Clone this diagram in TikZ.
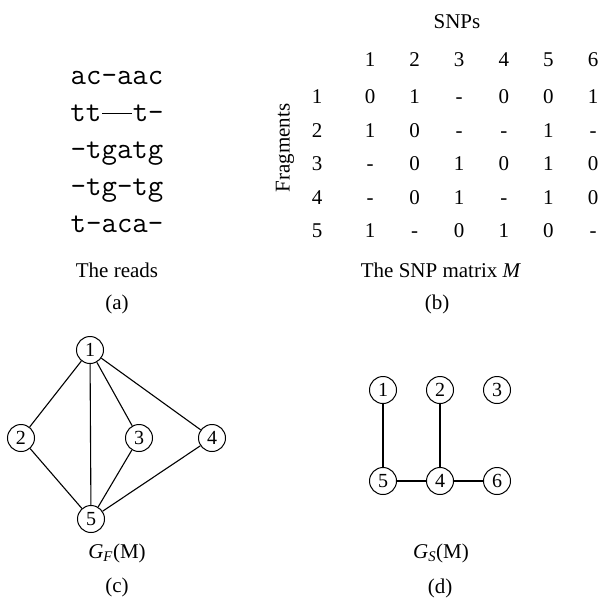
\documentclass[tikz,border=0pt]{standalone}
\usepackage{fontspec}
\setmainfont{Liberation Serif}
\begin{document}
\begin{tikzpicture}[x=1pt,y=-1pt,
  txt/.style={inner sep=0pt, font=\fontsize{21}{25}\selectfont},
  basetxt/.style={txt, anchor=base},
  rd/.style={inner sep=0pt, anchor=mid, font=\fontsize{30}{34}\ttfamily},
  vtx/.style={circle, draw, line width=1pt, minimum size=27pt, inner sep=0pt, font=\fontsize{20}{22}\selectfont},
  edge/.style={line width=1.1pt}]
\useasboundingbox (0,0) rectangle (601,599);

% (a) reads
\node[rd] (r1) at (117,82)  {ac-aac};
\node[rd] (r2) at (117,119) {tt\makebox[1.05em]{\rule[0.24em]{1.0em}{0.045em}}t-};
\node[rd] (r3) at (117,156) {-tgatg};
\node[rd] (r4) at (117,193) {-tg-tg};
\node[rd] (r5) at (117,230) {t-aca-};
\node[txt] (capa) at (117,270) {The reads};
\node[txt] (laba) at (117,304) {(a)};

% (b) matrix
\node[txt] (snps) at (457,22) {SNPs};
\node[txt, rotate=90] (frag) at (285,148) {Fragments};
\foreach \c in {1,...,6}{
  \node[basetxt] (h\c) at ({370+44.6*(\c-1)},66.5) {\c};
}
\foreach \r/\row in {1/{0,1,-,0,0,1},2/{1,0,-,-,1,-},3/{-,0,1,0,1,0},4/{-,0,1,-,1,0},5/{1,-,0,1,0,-}}{
  \node[basetxt] (f\r) at (317,{103.5+33.5*(\r-1)}) {\r};
  \foreach \v [count=\c] in \row {
    \node[basetxt] (m\r\c) at ({370+44.6*(\c-1)},{103.5+33.5*(\r-1)}) {\v};
  }
}
\node[txt] (capb) at (441,270) {The SNP matrix \textit{M}};
\node[txt] (labb) at (437,304) {(b)};

% (c) G_F(M)
\node[vtx] (c1) at (90,350) {1};
\node[vtx] (c2) at (21,438) {2};
\node[vtx] (c3) at (139,438) {3};
\node[vtx] (c4) at (212,438) {4};
\node[vtx] (c5) at (91,519) {5};
\draw[edge] (c1) -- (c2);
\draw[edge] (c1) -- (c5);
\draw[edge] (c1) -- (c3);
\draw[edge] (c1) -- (c4);
\draw[edge] (c2) -- (c5);
\draw[edge] (c3) -- (c5);
\draw[edge] (c4) -- (c5);
\node[basetxt] (capc) at (117,558) {\textit{G}\textsubscript{\textit{F}}(M)};
\node[txt] (labc) at (117,587) {(c)};

% (d) G_S(M)
\node[vtx] (d1) at (383,390) {1};
\node[vtx] (d2) at (440,390) {2};
\node[vtx] (d3) at (497,390) {3};
\node[vtx] (d5) at (383,481) {5};
\node[vtx] (d4) at (440,481) {4};
\node[vtx] (d6) at (497,481) {6};
\draw[edge] (d1) -- (d5);
\draw[edge] (d2) -- (d4);
\draw[edge] (d5) -- (d4);
\draw[edge] (d4) -- (d6);
\node[basetxt] (capd) at (441,558) {\textit{G}\textsubscript{\textit{S}}(M)};
\node[txt] (labd) at (440,588) {(d)};
\end{tikzpicture}
\end{document}
